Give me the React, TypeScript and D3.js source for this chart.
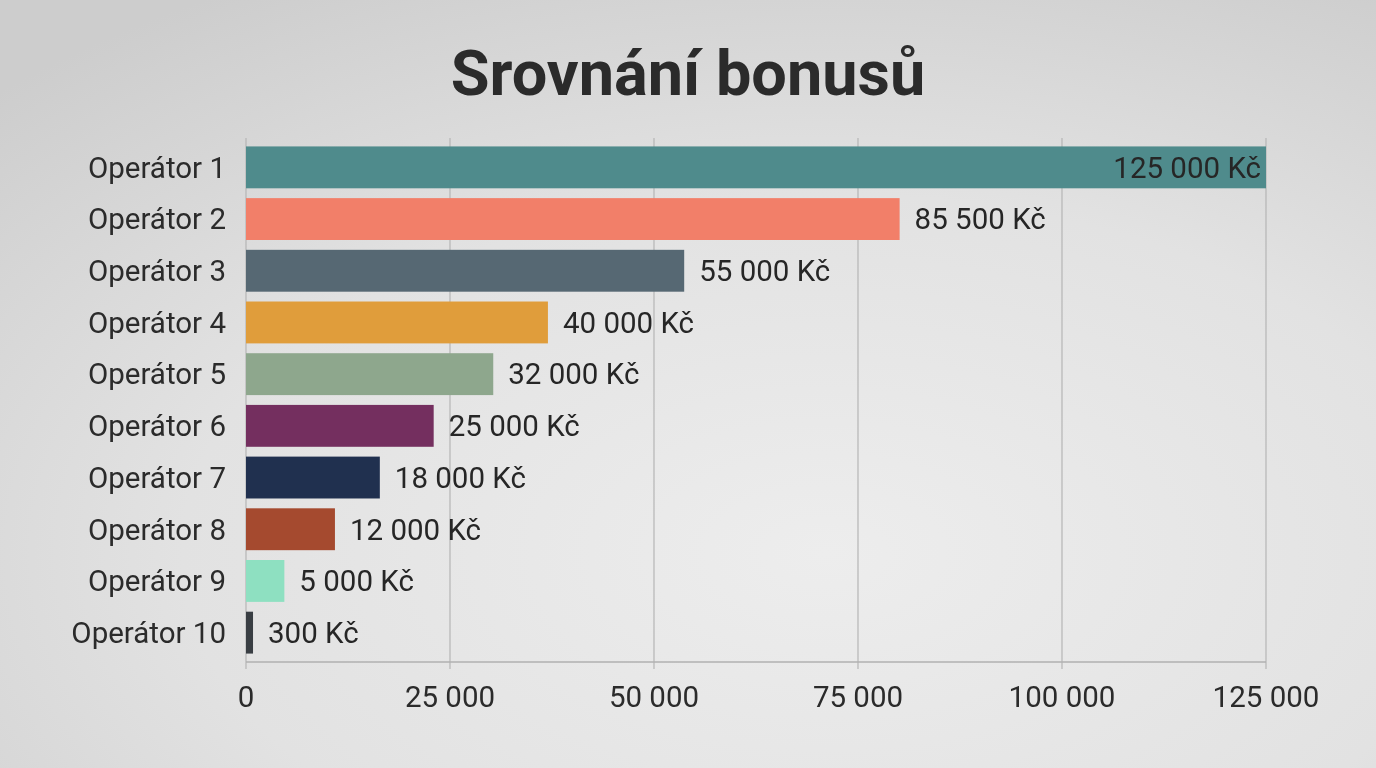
import React from "react";
import * as d3 from "d3";

const categories = [
  "Operátor 1", "Operátor 2", "Operátor 3", "Operátor 4", "Operátor 5",
  "Operátor 6", "Operátor 7", "Operátor 8", "Operátor 9", "Operátor 10",
];
// bar lengths as drawn in the picture
const barValues = [125000, 80100, 53700, 37000, 30300, 23000, 16400, 10900, 4700, 860];
// value labels as printed in the picture
const valueLabels = [
  "125 000 Kč", "85 500 Kč", "55 000 Kč", "40 000 Kč", "32 000 Kč",
  "25 000 Kč", "18 000 Kč", "12 000 Kč", "5 000 Kč", "300 Kč",
];
const colors = [
  "#4f8b8c", "#f27f69", "#566873", "#e09d3b", "#8ea78d",
  "#742f5f", "#20304f", "#a54a2f", "#8ee0c1", "#393e43",
];
const xTicks = [0, 25000, 50000, 75000, 100000, 125000];
const title = "Srovnání bonusů";

const W = 1376, H = 768;
const m = { left: 246, right: 110, top: 138, bottom: 106 };

export default function App() {
  const x = d3.scaleLinear().domain([0, 125000]).range([m.left, W - m.right]);
  const y = d3.scaleBand<string>().domain(categories).range([m.top, H - m.bottom]).paddingInner(0.19).paddingOuter(0.163);
  const fmt = (v: number) => d3.format(",")(v).replace(/,/g, "\u00a0");
  const font = "Roboto, 'Noto Sans', sans-serif";
  const bottom = H - m.bottom;
  const fs = 29.5;
  return (
    <svg width={W} height={H} style={{ position: "fixed", left: 0, top: 0 }} fontFamily={font}>
      <defs>
        <radialGradient id="bg" cx="0.6" cy="0.72" r="0.85">
          <stop offset="0" stopColor="#ededed" />
          <stop offset="0.55" stopColor="#e2e2e2" />
          <stop offset="1" stopColor="#cdcdcd" />
        </radialGradient>
      </defs>
      <rect x={0} y={0} width={W} height={H} fill="url(#bg)" />
      <text x={688} y={95} textAnchor="middle" fontSize={63} fontWeight={700} fill="#2b2b2b">{title}</text>
      {xTicks.map((t) => (
        <line key={t} x1={x(t)} x2={x(t)} y1={m.top} y2={bottom + 7} stroke="#b5b5b5" strokeWidth={1.2} />
      ))}
      <line x1={x(0)} x2={x(125000)} y1={bottom} y2={bottom} stroke="#b0b0b0" strokeWidth={1.5} />
      {categories.map((c, i) => {
        const by = y(c)!;
        const bw = x(barValues[i]) - x(0);
        const inside = i === 0;
        return (
          <g key={c}>
            <rect x={x(0)} y={by} width={bw} height={y.bandwidth()} fill={colors[i]} />
            <text x={226} y={by + y.bandwidth() / 2} dy="0.35em" textAnchor="end" fontSize={fs} fill="#2b2b2b">{c}</text>
            <text
              x={inside ? x(barValues[i]) - 5 : x(barValues[i]) + 15}
              y={by + y.bandwidth() / 2}
              dy="0.35em"
              textAnchor={inside ? "end" : "start"}
              fontSize={fs}
              fill="#262626"
            >{valueLabels[i]}</text>
          </g>
        );
      })}
      {xTicks.map((t) => (
        <text key={"l" + t} x={x(t)} y={697} dy="0.35em" textAnchor="middle" fontSize={fs} fill="#2b2b2b">{fmt(t)}</text>
      ))}
    </svg>
  );
}
